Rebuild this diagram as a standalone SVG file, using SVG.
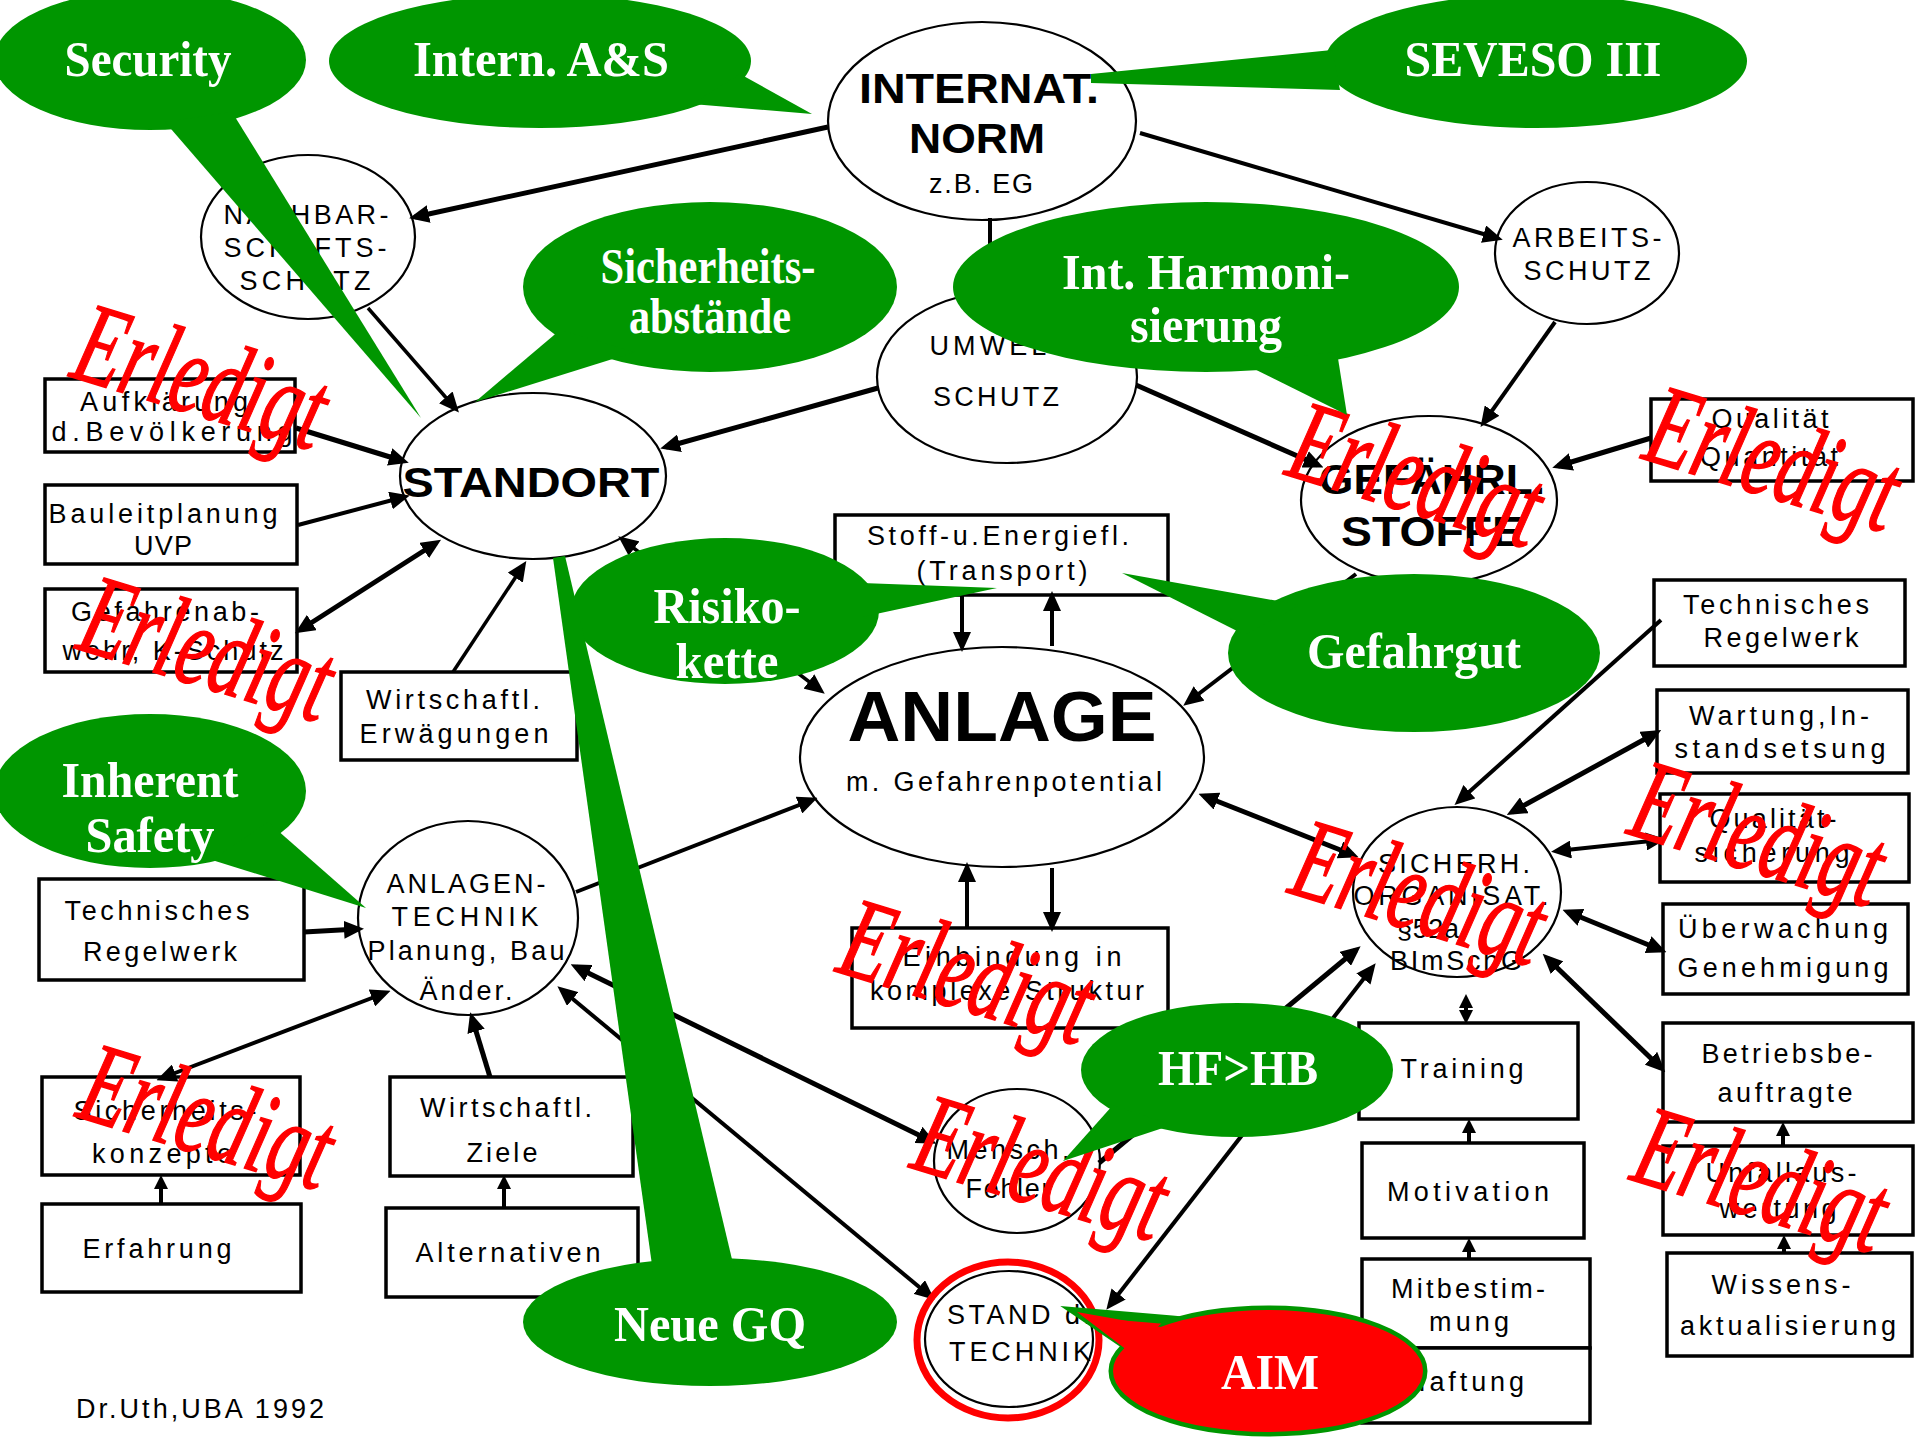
<svg xmlns="http://www.w3.org/2000/svg" width="1915" height="1438" viewBox="0 0 1915 1438">
<defs>
<marker id="a" viewBox="0 0 20 18" refX="14" refY="9" markerWidth="20" markerHeight="18" markerUnits="userSpaceOnUse" orient="auto-start-reverse"><path d="M0,0L20,9L0,18z" fill="#000"/></marker>
<marker id="s" viewBox="0 0 14 14" refX="10" refY="7" markerWidth="14" markerHeight="14" markerUnits="userSpaceOnUse" orient="auto-start-reverse"><path d="M0,0L14,7L0,14z" fill="#000"/></marker>
</defs>
<style>
.el{fill:#fff;stroke:#000;stroke-width:2.2}
.bx{fill:#fff;stroke:#000;stroke-width:3.5}
.n{font-family:"Liberation Sans",Arial,sans-serif;font-size:27px;fill:#000;text-anchor:middle}
.nb{font-family:"Liberation Sans",Arial,sans-serif;font-size:42px;font-weight:bold;fill:#000;text-anchor:middle}
.big{font-size:70px}
.c{font-family:"Liberation Serif","Times New Roman",serif;font-size:50px;font-weight:bold;fill:#fff;text-anchor:middle}
.g{fill:#009600}
.e{font-family:"Liberation Serif","Times New Roman",serif;font-size:116px;font-style:italic;fill:#ff0000;stroke:#ff0000;stroke-width:1.5}
.l{stroke:#000;fill:none;stroke-width:5}
.l4{stroke:#000;fill:none;stroke-width:4}
.l3{stroke:#000;fill:none;stroke-width:3.5}
</style>
<rect width="1915" height="1438" fill="#fff"/>

<g id="nodes">
<g id="n-internat"><ellipse class="el" cx="982" cy="121" rx="154" ry="99"/><text class="nb" x="979" y="103" textLength="240" lengthAdjust="spacingAndGlyphs">INTERNAT.</text><text class="nb" x="977" y="153" textLength="136" lengthAdjust="spacingAndGlyphs">NORM</text><text class="n" x="981" y="193" textLength="104">z.B. EG</text></g>
<g id="n-nachbar"><ellipse class="el" cx="308" cy="237" rx="107" ry="82"/><text class="n" x="306" y="224" textLength="165">NACHBAR-</text><text class="n" x="305" y="257" textLength="163">SCHAFTS-</text><text class="n" x="305" y="290" textLength="131">SCHUTZ</text></g>
<g id="n-arbeits"><ellipse class="el" cx="1587" cy="253" rx="92" ry="71"/><text class="n" x="1587" y="247" textLength="149">ARBEITS-</text><text class="n" x="1587" y="280" textLength="127">SCHUTZ</text></g>
<g id="n-umwelt"><ellipse class="el" cx="1007" cy="377" rx="130" ry="86"/><text class="n" x="1003" y="355" textLength="147">UMWELT-</text><text class="n" x="996" y="406" textLength="126">SCHUTZ</text></g>
<g id="n-standort"><ellipse class="el" cx="533" cy="476" rx="133" ry="83"/><text class="nb" x="531" y="497" textLength="257" lengthAdjust="spacingAndGlyphs">STANDORT</text></g>
<g id="n-gefaehrl"><ellipse class="el" cx="1429" cy="500" rx="128" ry="84"/><text class="nb" x="1432" y="494" textLength="226" lengthAdjust="spacingAndGlyphs">GEFÄHRL.</text><text class="nb" x="1432" y="546" textLength="182" lengthAdjust="spacingAndGlyphs">STOFFE</text></g>
<g id="n-anlage"><ellipse class="el" cx="1002" cy="757" rx="202" ry="110"/><text class="nb big" x="1002" y="741" textLength="309" lengthAdjust="spacingAndGlyphs">ANLAGE</text><text class="n" x="1004" y="791" textLength="316">m. Gefahrenpotential</text></g>
<g id="n-anlagentechnik"><ellipse class="el" cx="468" cy="918" rx="110" ry="97"/><text class="n" x="466" y="893" textLength="159">ANLAGEN-</text><text class="n" x="465" y="926" textLength="147">TECHNIK</text><text class="n" x="466" y="960" textLength="197">Planung, Bau</text><text class="n" x="466" y="1000" textLength="93">Änder.</text></g>
<g id="n-sicherh"><ellipse class="el" cx="1457" cy="892" rx="104" ry="85"/><text class="n" x="1454" y="873" textLength="152">SICHERH.</text><text class="n" x="1451" y="905" textLength="195">ORGANISAT.</text><text class="n" x="1428" y="938" textLength="62">§52a</text><text class="n" x="1456" y="970" textLength="132">BImSchG</text></g>
<g id="n-mensch"><ellipse class="el" cx="1017" cy="1161" rx="83" ry="72"/><text class="n" x="1008" y="1159" textLength="123">Mensch.</text><text class="n" x="1008" y="1198" textLength="85">Fehler</text></g>
<g id="n-stand"><ellipse class="el" cx="1009" cy="1339" rx="84" ry="68"/><text class="n" x="1019" y="1324" textLength="144">STAND d.</text><text class="n" x="1020" y="1361" textLength="142">TECHNIK</text></g>

<g id="b-aufklaerung"><rect class="bx" x="45" y="379" width="250" height="73"/><text class="n" x="164" y="411" textLength="168">Aufklärung</text><text class="n" x="172" y="441" textLength="241">d.Bevölkerung</text></g>
<g id="b-bauleit"><rect class="bx" x="45" y="485" width="252" height="79"/><text class="n" x="163" y="523" textLength="229">Bauleitplanung</text><text class="n" x="163" y="555" textLength="58">UVP</text></g>
<g id="b-gefahrenab"><rect class="bx" x="45" y="589" width="252" height="83"/><text class="n" x="165" y="621" textLength="188">Gefahrenab-</text><text class="n" x="173" y="660" textLength="221">wehr, K-Schutz</text></g>
<g id="b-wirterw"><rect class="bx" x="341" y="672" width="236" height="88"/><text class="n" x="453" y="709" textLength="174">Wirtschaftl.</text><text class="n" x="454" y="743" textLength="189">Erwägungen</text></g>
<g id="b-stoff"><rect class="bx" x="835" y="515" width="333" height="80"/><text class="n" x="998" y="545" textLength="262">Stoff-u.Energiefl.</text><text class="n" x="1002" y="580" textLength="171">(Transport)</text></g>
<g id="b-techl"><rect class="bx" x="39" y="879" width="265" height="101"/><text class="n" x="157" y="920" textLength="185">Technisches</text><text class="n" x="160" y="961" textLength="154">Regelwerk</text></g>
<g id="b-sicherheitsk"><rect class="bx" x="42" y="1077" width="258" height="98"/><text class="n" x="165" y="1120" textLength="183">Sicherheits-</text><text class="n" x="162" y="1163" textLength="140">konzepte</text></g>
<g id="b-erfahrung"><rect class="bx" x="42" y="1204" width="259" height="88"/><text class="n" x="157" y="1258" textLength="149">Erfahrung</text></g>
<g id="b-wirtziele"><rect class="bx" x="390" y="1077" width="243" height="99"/><text class="n" x="506" y="1117" textLength="172">Wirtschaftl.</text><text class="n" x="502" y="1162" textLength="71">Ziele</text></g>
<g id="b-alternativen"><rect class="bx" x="386" y="1208" width="252" height="89"/><text class="n" x="508" y="1262" textLength="185">Alternativen</text></g>
<g id="b-einbindung"><rect class="bx" x="852" y="928" width="316" height="100"/><text class="n" x="1012" y="966" textLength="219">Einbindung in</text><text class="n" x="1007" y="1000" textLength="274">komplexe Struktur</text></g>
<g id="b-qualquant"><rect class="bx" x="1651" y="399" width="262" height="82"/><text class="n" x="1770" y="428" textLength="117">Qualität</text><text class="n" x="1769" y="466" textLength="138">Quantität</text></g>
<g id="b-techr"><rect class="bx" x="1654" y="580" width="251" height="86"/><text class="n" x="1776" y="614" textLength="186">Technisches</text><text class="n" x="1781" y="647" textLength="155">Regelwerk</text></g>
<g id="b-wartung"><rect class="bx" x="1657" y="690" width="251" height="83"/><text class="n" x="1779" y="725" textLength="180">Wartung,In-</text><text class="n" x="1780" y="758" textLength="211">standsetsung</text></g>
<g id="b-quals"><rect class="bx" x="1660" y="794" width="249" height="88"/><text class="n" x="1773" y="828" textLength="127">Qualität-</text><text class="n" x="1772" y="862" textLength="155">sicherung</text></g>
<g id="b-ueberw"><rect class="bx" x="1663" y="904" width="245" height="90"/><text class="n" x="1783" y="938" textLength="210">Überwachung</text><text class="n" x="1783" y="977" textLength="211">Genehmigung</text></g>
<g id="b-betriebs"><rect class="bx" x="1663" y="1023" width="250" height="99"/><text class="n" x="1787" y="1063" textLength="171">Betriebsbe-</text><text class="n" x="1785" y="1102" textLength="135">auftragte</text></g>
<g id="b-unfall"><rect class="bx" x="1663" y="1146" width="250" height="89"/><text class="n" x="1781" y="1182" textLength="151">Unfallaus-</text><text class="n" x="1778" y="1218" textLength="117">wertung</text></g>
<g id="b-wissens"><rect class="bx" x="1667" y="1253" width="245" height="103"/><text class="n" x="1781" y="1294" textLength="139">Wissens-</text><text class="n" x="1788" y="1335" textLength="216">aktualisierung</text></g>
<g id="b-training"><rect class="bx" x="1359" y="1023" width="219" height="96"/><text class="n" x="1462" y="1078" textLength="123">Training</text></g>
<g id="b-motivation"><rect class="bx" x="1362" y="1143" width="222" height="95"/><text class="n" x="1468" y="1201" textLength="162">Motivation</text></g>
<g id="b-mitbest"><rect class="bx" x="1362" y="1259" width="228" height="89"/><text class="n" x="1468" y="1298" textLength="154">Mitbestim-</text><text class="n" x="1469" y="1331" textLength="80">mung</text></g>
<g id="b-haftung"><rect class="bx" x="1362" y="1348" width="228" height="75"/><text class="n" x="1465" y="1391" textLength="118">Haftung</text></g>
</g>

<g id="connectors">
<line class="l" x1="828" y1="127" x2="415" y2="217" marker-end="url(#a)"/>
<line class="l4" x1="1140" y1="133" x2="1497" y2="238" marker-end="url(#a)"/>
<line class="l4" x1="990" y1="218" x2="990" y2="292"/>
<line class="l3" x1="368" y1="308" x2="455" y2="408" marker-end="url(#a)"/>
<line class="l" x1="878" y1="388" x2="666" y2="447" marker-end="url(#a)"/>
<line class="l" x1="1136" y1="385" x2="1318" y2="465" marker-end="url(#a)"/>
<line class="l4" x1="1555" y1="322" x2="1484" y2="422" marker-end="url(#a)"/>
<line class="l" x1="1651" y1="438" x2="1558" y2="466" marker-end="url(#a)"/>
<line class="l" x1="296" y1="428" x2="403" y2="461" marker-end="url(#a)"/>
<line class="l4" x1="298" y1="525" x2="404" y2="497" marker-end="url(#a)"/>
<line class="l" x1="300" y1="630" x2="436" y2="543" marker-start="url(#a)" marker-end="url(#a)"/>
<line class="l3" x1="453" y1="672" x2="523" y2="566" marker-end="url(#a)"/>
<line class="l3" x1="623" y1="540" x2="820" y2="690" marker-start="url(#a)" marker-end="url(#a)"/>
<line class="l4" x1="962" y1="596" x2="962" y2="646" marker-end="url(#a)"/>
<line class="l4" x1="1052" y1="646" x2="1052" y2="597" marker-end="url(#a)"/>
<line class="l4" x1="1356" y1="574" x2="1188" y2="702" marker-end="url(#a)"/>
<line class="l4" x1="576" y1="892" x2="812" y2="800" marker-end="url(#a)"/>
<line class="l" x1="1204" y1="796" x2="1353" y2="855" marker-start="url(#a)" marker-end="url(#a)"/>
<line class="l4" x1="967" y1="928" x2="967" y2="868" marker-end="url(#a)"/>
<line class="l4" x1="1052" y1="868" x2="1052" y2="926" marker-end="url(#a)"/>
<line class="l" x1="304" y1="932" x2="358" y2="929" marker-end="url(#a)"/>
<line class="l4" x1="162" y1="1078" x2="385" y2="993" marker-start="url(#a)" marker-end="url(#a)"/>
<line class="l4" x1="161" y1="1205" x2="161" y2="1179" marker-end="url(#s)"/>
<line class="l" x1="490" y1="1077" x2="472" y2="1018" marker-end="url(#a)"/>
<line class="l4" x1="504" y1="1208" x2="504" y2="1179" marker-end="url(#s)"/>
<line class="l" x1="576" y1="967" x2="931" y2="1141" marker-start="url(#a)" marker-end="url(#a)"/>
<line class="l4" x1="562" y1="990" x2="930" y2="1296" marker-start="url(#a)" marker-end="url(#a)"/>
<line class="l" x1="1512" y1="812" x2="1656" y2="733" marker-start="url(#a)" marker-end="url(#a)"/>
<line class="l4" x1="1661" y1="620" x2="1459" y2="801" marker-end="url(#a)"/>
<line class="l4" x1="1557" y1="851" x2="1660" y2="840" marker-start="url(#a)" marker-end="url(#a)"/>
<line class="l" x1="1568" y1="912" x2="1661" y2="950" marker-start="url(#a)" marker-end="url(#a)"/>
<line class="l" x1="1547" y1="958" x2="1661" y2="1068" marker-start="url(#a)" marker-end="url(#a)"/>
<line class="l4" x1="1466" y1="998" x2="1466" y2="1020" marker-start="url(#s)" marker-end="url(#s)"/>
<line class="l4" x1="1469" y1="1143" x2="1469" y2="1123" marker-end="url(#s)"/>
<line class="l4" x1="1469" y1="1259" x2="1469" y2="1242" marker-end="url(#s)"/>
<line class="l4" x1="1783" y1="1146" x2="1783" y2="1126" marker-end="url(#s)"/>
<line class="l4" x1="1784" y1="1253" x2="1784" y2="1239" marker-end="url(#s)"/>
<line class="l" x1="1099" y1="1163" x2="1356" y2="950" marker-end="url(#a)"/>
<line class="l4" x1="1110" y1="1305" x2="1372" y2="968" marker-start="url(#a)" marker-end="url(#a)"/>
</g>

<text class="n" x="76" y="1418" textLength="248" style="text-anchor:start">Dr.Uth,UBA 1992</text>

<g id="stamps">
<text class="e" transform="translate(68,376) rotate(17)" textLength="256" lengthAdjust="spacingAndGlyphs">Erledigt</text>
<text class="e" transform="translate(74,648) rotate(17)" textLength="256" lengthAdjust="spacingAndGlyphs">Erledigt</text>
<text class="e" transform="translate(1283,474) rotate(17)" textLength="256" lengthAdjust="spacingAndGlyphs">Erledigt</text>
<text class="e" transform="translate(1640,458) rotate(17)" textLength="256" lengthAdjust="spacingAndGlyphs">Erledigt</text>
<text class="e" transform="translate(1286,892) rotate(17)" textLength="256" lengthAdjust="spacingAndGlyphs">Erledigt</text>
<text class="e" transform="translate(1625,833) rotate(17)" textLength="256" lengthAdjust="spacingAndGlyphs">Erledigt</text>
<text class="e" transform="translate(834,971) rotate(17)" textLength="256" lengthAdjust="spacingAndGlyphs">Erledigt</text>
<text class="e" transform="translate(74,1116) rotate(17)" textLength="256" lengthAdjust="spacingAndGlyphs">Erledigt</text>
<text class="e" transform="translate(908,1167) rotate(17)" textLength="256" lengthAdjust="spacingAndGlyphs">Erledigt</text>
<text class="e" transform="translate(1628,1179) rotate(17)" textLength="256" lengthAdjust="spacingAndGlyphs">Erledigt</text>
</g>

<g id="callouts">
<g id="c-security"><ellipse class="g" cx="150" cy="60" rx="156" ry="70"/><polygon class="g" points="165,122 232,112 421,418"/><text class="c" x="148" y="76" textLength="167" lengthAdjust="spacingAndGlyphs">Security</text></g>
<g id="c-intern"><ellipse class="g" cx="540" cy="61" rx="211" ry="67"/><polygon class="g" points="740,74 812,114 692,104"/><text class="c" x="541" y="76" textLength="256" lengthAdjust="spacingAndGlyphs">Intern. A&amp;S</text></g>
<g id="c-seveso"><ellipse class="g" cx="1536" cy="61" rx="211" ry="67"/><polygon class="g" points="1332,50 1091,74 1091,83 1340,90"/><text class="c" x="1533" y="76" textLength="257" lengthAdjust="spacingAndGlyphs">SEVESO III</text></g>
<g id="c-abstaende"><ellipse class="g" cx="710" cy="287" rx="187" ry="85"/><polygon class="g" points="560,330 475,402 635,352"/><text class="c" x="708" y="283" textLength="215" lengthAdjust="spacingAndGlyphs">Sicherheits-</text><text class="c" x="710" y="333" textLength="162" lengthAdjust="spacingAndGlyphs">abstände</text></g>
<g id="c-harmoni"><ellipse class="g" cx="1206" cy="287" rx="253" ry="85"/><polygon class="g" points="1240,362 1347,415 1337,352"/><text class="c" x="1206" y="289" textLength="288" lengthAdjust="spacingAndGlyphs">Int. Harmoni-</text><text class="c" x="1206" y="342" textLength="152" lengthAdjust="spacingAndGlyphs">sierung</text></g>
<g id="c-risiko"><ellipse class="g" cx="725" cy="611" rx="154" ry="73"/><polygon class="g" points="862,583 997,588 862,617"/><text class="c" x="727" y="623" textLength="147" lengthAdjust="spacingAndGlyphs">Risiko-</text><text class="c" x="727" y="678" textLength="103" lengthAdjust="spacingAndGlyphs">kette</text></g>
<g id="c-gefahrgut"><ellipse class="g" cx="1414" cy="653" rx="186" ry="79"/><polygon class="g" points="1300,605 1122,573 1245,635"/><text class="c" x="1414" y="668" textLength="214" lengthAdjust="spacingAndGlyphs">Gefahrgut</text></g>
<g id="c-inherent"><ellipse class="g" cx="150" cy="791" rx="156" ry="77"/><polygon class="g" points="268,822 366,908 212,860"/><text class="c" x="150" y="797" textLength="177" lengthAdjust="spacingAndGlyphs">Inherent</text><text class="c" x="150" y="852" textLength="129" lengthAdjust="spacingAndGlyphs">Safety</text></g>
<g id="c-neuegq"><ellipse class="g" cx="710" cy="1322" rx="187" ry="64"/><polygon class="g" points="553,558 565,556 735,1272 653,1272"/><text class="c" x="710" y="1341" textLength="192" lengthAdjust="spacingAndGlyphs">Neue GQ</text></g>
<g id="c-hfhb"><ellipse class="g" cx="1237" cy="1070" rx="156" ry="67"/><polygon class="g" points="1113,1105 1063,1161 1172,1125"/><text class="c" x="1238" y="1085" textLength="160" lengthAdjust="spacingAndGlyphs">HF&gt;HB</text></g>
<ellipse cx="1008" cy="1340" rx="91" ry="78" fill="none" stroke="#ff0000" stroke-width="7"/>
<g id="c-aim">
<ellipse cx="1268" cy="1371" rx="155" ry="61" fill="#ff0000" stroke="#009600" stroke-width="9"/>
<polygon points="1172,1320 1077,1312 1136,1352" fill="#ff0000" stroke="#009600" stroke-width="9" stroke-linejoin="miter"/>
<ellipse cx="1268" cy="1371" rx="155" ry="61" fill="#ff0000"/>
<polygon points="1178,1330 1077,1312 1140,1360" fill="#ff0000"/>
<text class="c" x="1270" y="1389" textLength="98" lengthAdjust="spacingAndGlyphs">AIM</text>
</g>
</g>
</svg>
